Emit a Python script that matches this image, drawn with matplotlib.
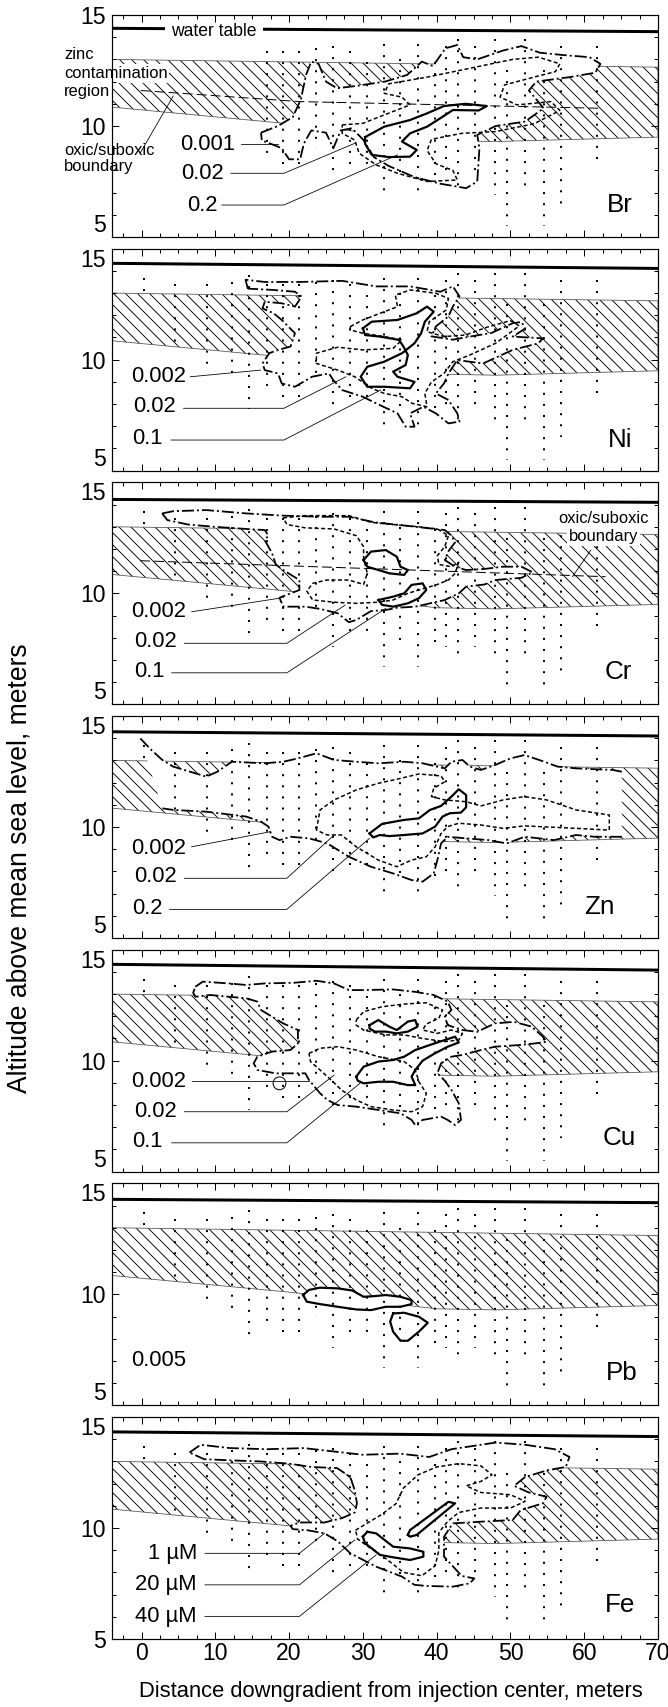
import matplotlib
matplotlib.use('Agg')
import matplotlib.pyplot as plt
from matplotlib.patches import Polygon, Ellipse
from matplotlib.ticker import MultipleLocator

plt.rcParams['font.family'] = ['Liberation Sans Narrow', 'Liberation Sans', 'DejaVu Sans']
plt.rcParams['lines.scale_dashes'] = False
plt.rcParams['hatch.linewidth'] = 0.9

DPI = 72
W, H = 668, 1707

names = ['Br', 'Ni', 'Cr', 'Zn', 'Cu', 'Pb', 'Fe']
name_x = [64.8, 64.8, 64.6, 62.0, 64.8, 65.1, 64.8]
name_y = [6.45, 6.4, 6.47, 6.41, 6.5, 6.44, 6.53]

# water table (left, right) per panel
wt_left = [14.4, 14.34, 14.23, 14.29, 14.34, 14.28, 14.33]
wt_right = [14.25, 14.11, 14.1, 14.1, 14.08, 14.13, 14.12]

# zinc contamination region
hatch_x = [-4, 70, 70, 48, 40, 20, -4]
hatch_y = [13.0, 12.65, 9.5, 9.3, 9.35, 10.1, 10.85]

# multilevel sampler columns: x, top, bottom
col_x = [0.4, 4.5, 8.9, 12.2, 14.6, 17.0, 19.2, 21.3, 23.7, 25.9, 28.3, 30.5, 32.9,
         35.1, 37.5, 39.8, 41.3, 42.9, 45.2, 47.9, 49.5, 52.0, 54.5, 56.8, 61.7]
col_top = [13.7, 13.4, 13.4, 13.5, 13.8, 13.4, 13.4, 13.4, 13.5, 13.6, 13.4, 12.9, 13.7,
           13.0, 13.7, 12.9, 13.6, 13.9, 13.6, 13.9, 12.5, 13.9, 12.5, 13.6, 13.6]
col_bot = [12.8, 10.5, 9.7, 9.2, 7.8, 8.8, 8.0, 8.3, 9.0, 7.6, 8.0, 8.0, 6.7,
           7.7, 6.7, 7.6, 7.6, 7.0, 7.6, 6.9, 5.5, 7.0, 5.5, 6.5, 8.5]

# oxic/suboxic boundary
br_oxic = [(-0.1, 11.6), (21.4, 11.1), (61.9, 10.8)]
cr_oxic = [(-0.2, 11.47), (62.9, 10.75)]

# ---- Br
br_outer = [(16.2, 9.7), (18.5, 10.0), (20.5, 10.4), (21.6, 11.2), (22.3, 12.3), (23.0, 12.9),
            (24.0, 12.8), (25.0, 12.0), (26.5, 11.7), (29.0, 11.8), (33.0, 12.0), (36.0, 12.3),
            (38.0, 12.9), (39.5, 12.7), (41.2, 13.5), (42.8, 13.65), (43.6, 13.1), (45.5, 13.0),
            (49.0, 13.4), (51.5, 13.6), (54.0, 13.3), (57.0, 13.2), (60.7, 13.1), (62.2, 12.8),
            (61.5, 12.4), (58.0, 12.2), (53.5, 12.0), (52.5, 11.6), (54.5, 10.8), (52.0, 10.2),
            (48.0, 10.0), (45.5, 9.6), (45.8, 9.0), (45.5, 7.5), (44.0, 7.2), (40.5, 7.4),
            (37.0, 7.7), (33.5, 8.2), (31.5, 8.6), (30.0, 9.4), (28.5, 9.9), (27.0, 9.8),
            (26.0, 9.0), (25.0, 9.7), (23.0, 9.8), (22.0, 9.2), (21.5, 8.5), (20.0, 8.5),
            (19.0, 9.0), (17.5, 9.2), (16.3, 9.35)]
br_mid = [(27.2, 10.05), (30.0, 10.12), (32.9, 10.5), (36.4, 10.95), (35.3, 11.3), (32.9, 11.47),
          (33.5, 11.9), (38.7, 12.2), (44.5, 12.6), (50.3, 13.0), (53.8, 13.1), (56.7, 12.8),
          (56.1, 12.45), (52.6, 12.15), (49.2, 11.85), (48.6, 11.3), (50.9, 10.95), (55.5, 11.1),
          (56.7, 10.7), (53.2, 10.1), (48.0, 9.75), (43.4, 9.67), (39.3, 9.4), (38.7, 8.9),
          (39.9, 8.3), (42.2, 8.0), (42.8, 7.57), (38.7, 7.5), (34.7, 7.87), (31.8, 8.25),
          (29.5, 8.77), (28.9, 9.37), (27.2, 9.67)]
br_inner = [(30.3, 9.5), (32.9, 9.97), (36.4, 10.27), (38.7, 10.57), (41.0, 10.9), (43.9, 11.0),
            (46.8, 10.9), (45.7, 10.7), (42.2, 10.72), (40.5, 10.35), (38.7, 9.97), (36.4, 9.67),
            (35.3, 9.3), (37.3, 8.92), (36.4, 8.62), (33.5, 8.6), (31.2, 8.7), (30.3, 9.2)]
br_labels = ['0.001', '0.02', '0.2']
br_label_x = [12.7, 11.2, 10.3]
br_label_y = [9.15, 7.87, 6.44]
br_leaders = [[(13.5, 9.2), (18.5, 9.2)],
              [(12.1, 7.87), (19.3, 7.87), (28.9, 9.22)],
              [(10.9, 6.44), (19.3, 6.44), (34.7, 8.7)]]

# ---- Ni
ni_outer = [(14.4, 13.2), (14.1, 13.6), (16.7, 13.5), (21.4, 13.5), (27.2, 13.55), (31.8, 13.3),
            (36.4, 13.3), (40.5, 13.06), (42.2, 13.3), (43.1, 12.85), (42.2, 12.4), (41.6, 11.95),
            (39.9, 11.5), (39.3, 11.05), (42.2, 10.9), (44.5, 11.04), (47.4, 11.2), (50.3, 11.64),
            (51.5, 11.7), (52.0, 11.4), (50.3, 11.04), (54.4, 10.96), (53.8, 10.74), (50.3, 10.44),
            (46.3, 9.83), (42.8, 9.98), (41.6, 9.38), (41.0, 8.93), (39.9, 8.48), (41.6, 8.18),
            (42.8, 7.58), (43.1, 7.21), (41.6, 7.13), (39.9, 7.58), (38.2, 7.88), (36.4, 7.58),
            (37.0, 6.98), (35.8, 6.98), (34.7, 7.58), (31.8, 8.03), (30.0, 8.33), (27.2, 8.63),
            (26.0, 9.08), (25.4, 9.38), (23.1, 9.23), (20.8, 8.78), (19.0, 8.93), (18.5, 9.38),
            (16.7, 9.53), (16.4, 9.83), (17.3, 10.29), (18.5, 10.44), (20.2, 10.59), (20.8, 11.19),
            (19.0, 11.79), (17.9, 12.09), (16.4, 12.31), (16.7, 12.61), (19.0, 12.54), (20.8, 12.39),
            (21.7, 12.84), (20.8, 13.06), (17.9, 13.14)]
ni_mid = [(28.3, 11.49), (30.0, 11.79), (32.9, 12.16), (34.7, 12.39), (34.4, 12.91), (36.4, 13.14),
          (39.9, 12.99), (41.6, 12.76), (41.3, 12.24), (39.0, 11.71), (38.7, 11.26), (41.0, 11.04),
          (43.9, 11.11), (46.8, 11.46), (50.0, 11.76), (51.2, 11.52), (48.0, 10.74), (44.5, 10.21),
          (42.2, 9.91), (41.0, 9.38), (39.3, 9.0), (38.4, 8.48), (38.7, 7.88), (36.7, 8.03),
          (35.3, 8.33), (32.9, 8.48), (31.2, 8.71), (28.9, 9.23), (26.6, 9.53), (23.7, 9.83),
          (23.7, 10.29), (26.6, 10.56), (30.0, 10.44), (34.1, 10.51), (35.3, 10.89), (32.9, 11.04),
          (30.0, 11.19), (28.3, 11.34)]
ni_inner = [(30.0, 11.41), (31.2, 11.71), (34.7, 11.79), (37.3, 12.09), (38.7, 12.39), (39.6, 12.16),
            (38.4, 11.71), (37.9, 11.19), (37.0, 10.74), (35.3, 10.29), (32.9, 9.91), (30.6, 9.68),
            (29.7, 9.23), (30.6, 8.78), (32.9, 8.78), (36.4, 8.71), (37.0, 9.0), (34.7, 9.23),
            (34.1, 9.46), (35.8, 9.76), (36.1, 10.21), (35.5, 10.59), (34.9, 10.89), (32.3, 11.04),
            (30.3, 11.11)]
ni_labels = ['0.002', '0.02', '0.1']
ni_label_x = [6.0, 4.6, 2.8]
ni_label_y = [9.23, 7.9, 6.45]
ni_leaders = [[(6.6, 9.23), (16.15, 9.53)],
              [(5.7, 7.81), (19.3, 7.81), (27.7, 9.23)],
              [(4.0, 6.38), (19.3, 6.38), (32.4, 8.63)]]

# ---- Cr
cr_outer = [(2.8, 13.6), (4.3, 13.7), (8.8, 13.75), (14.2, 13.6), (19.2, 13.5), (24.2, 13.45),
            (28.1, 13.45), (31.6, 13.2), (37.1, 13.0), (41.1, 12.85), (42.0, 12.6), (42.5, 12.3),
            (41.6, 11.9), (41.1, 11.5), (42.5, 11.2), (44.0, 11.05), (46.5, 11.1), (49.0, 11.2),
            (51.5, 11.2), (53.0, 10.95), (51.5, 10.7), (48.0, 10.6), (46.5, 10.4), (44.0, 10.3),
            (43.0, 10.0), (41.1, 9.7), (39.1, 9.55), (37.1, 9.4), (34.6, 9.35), (33.1, 9.25),
            (31.1, 9.2), (29.1, 8.8), (28.1, 8.7), (26.6, 9.1), (24.2, 9.3), (22.2, 9.4),
            (19.2, 9.4), (18.7, 9.8), (20.2, 10.0), (21.4, 10.15), (21.4, 10.6), (19.2, 11.05),
            (18.2, 11.3), (17.7, 11.8), (16.7, 12.4), (17.2, 12.6), (16.7, 12.85), (14.2, 12.9),
            (9.8, 13.0), (6.3, 13.1), (3.5, 13.3)]
cr_mid = [(19.2, 13.4), (22.2, 13.5), (28.1, 13.5), (31.1, 13.2), (34.1, 13.1), (37.5, 13.0),
          (40.1, 12.9), (41.6, 12.6), (41.1, 12.1), (40.1, 11.7), (40.3, 11.3), (42.0, 11.2),
          (43.0, 11.4), (42.5, 10.9), (41.6, 10.6), (40.1, 10.4), (38.1, 10.2), (36.1, 10.0),
          (34.1, 9.7), (32.1, 9.6), (29.1, 9.55), (26.1, 9.6), (23.2, 9.7), (22.4, 10.1),
          (23.2, 10.45), (25.1, 10.6), (28.1, 10.6), (30.1, 10.4), (30.6, 10.9), (30.1, 11.6),
          (30.1, 12.1), (29.1, 12.6), (26.1, 12.9), (22.2, 12.95), (19.7, 13.1)]
cr_inner_a = [(30.1, 11.5), (31.1, 11.88), (33.1, 11.95), (34.6, 11.65), (35.1, 11.2), (36.1, 11.05),
              (35.6, 10.83), (33.6, 10.9), (32.1, 11.05), (30.6, 11.2)]
cr_inner_b = [(32.1, 9.7), (34.1, 9.85), (35.6, 10.0), (36.6, 10.38), (38.1, 10.45), (38.6, 10.15),
              (37.6, 9.78), (36.1, 9.55), (34.1, 9.4), (32.6, 9.48)]
cr_labels = ['0.002', '0.02', '0.1']
cr_label_x = [6.0, 4.8, 3.1]
cr_label_y = [9.17, 7.82, 6.47]
cr_leaders = [[(6.8, 9.17), (18.7, 9.78)],
              [(5.8, 7.75), (19.7, 7.75), (27.6, 9.47)],
              [(4.1, 6.42), (19.7, 6.42), (33.1, 9.32)]]

# ---- Zn (outer contour is open at both ends)
zn_outer_top = [(-0.16, 13.99), (1.33, 13.47), (2.82, 13.02), (4.3, 12.72), (8.77, 12.27),
                (10.27, 12.49), (12.25, 12.94), (16.7, 12.87), (19.2, 12.94), (21.2, 13.09),
                (23.7, 13.32), (26.1, 13.02), (29.1, 12.94), (32.1, 12.87), (35.6, 12.94),
                (38.1, 12.87), (41.1, 12.64), (42.0, 12.94), (43.5, 13.02), (44.5, 12.72),
                (46.0, 12.57), (47.9, 12.79), (50.0, 13.09), (51.9, 13.24), (53.9, 13.02),
                (56.4, 12.72), (58.9, 12.64), (63.9, 12.57), (65.1, 12.49)]
zn_outer_bot = [(65.1, 9.56), (63.9, 9.56), (61.4, 9.56), (58.9, 9.64), (55.9, 9.41), (53.9, 9.49),
                (51.9, 9.56), (49.5, 9.26), (47.0, 9.41), (44.0, 9.49), (41.5, 9.56), (40.6, 9.26),
                (40.1, 8.51), (39.6, 7.91), (38.1, 7.54), (36.6, 7.61), (34.1, 7.91), (31.1, 8.21),
                (28.1, 8.66), (25.2, 9.26), (22.7, 9.49), (20.2, 9.56), (18.7, 9.41), (17.7, 9.56),
                (17.2, 10.02), (16.2, 10.24), (14.2, 10.47), (8.77, 10.69), (4.3, 10.77), (2.82, 10.84)]
zn_mid = [(23.7, 9.86), (24.2, 10.77), (26.1, 11.22), (29.1, 11.67), (32.1, 11.97), (35.1, 12.19),
          (37.6, 12.39), (40.6, 12.3), (41.1, 12.04), (39.6, 11.74), (39.3, 11.37), (41.1, 11.22),
          (44.0, 11.14), (46.0, 10.95), (49.0, 11.22), (51.9, 11.37), (54.9, 11.22), (58.9, 10.77),
          (63.4, 10.54), (63.4, 9.86), (58.9, 9.94), (51.9, 10.05), (49.0, 9.94), (46.0, 10.09),
          (43.0, 10.17), (41.5, 10.02), (40.6, 9.71), (39.8, 9.11), (38.6, 8.66), (36.6, 8.51),
          (34.6, 8.21), (32.1, 8.51), (29.1, 9.11), (27.1, 9.64), (25.2, 9.64)]
zn_inner = [(30.9, 9.71), (32.6, 10.14), (35.6, 10.32), (37.6, 10.39), (39.1, 10.77), (40.6, 10.95),
            (42.0, 11.37), (43.0, 11.7), (44.0, 11.44), (44.0, 10.89), (43.3, 10.65), (41.8, 10.62),
            (40.8, 10.47), (39.8, 10.02), (38.1, 9.71), (35.6, 9.64), (33.6, 9.59), (32.3, 9.64),
            (31.4, 9.53)]
zn_labels = ['0.002', '0.02', '0.2']
zn_label_x = [6.0, 4.8, 2.8]
zn_label_y = [9.04, 7.76, 6.34]
zn_leaders = [[(6.8, 9.11), (17.5, 9.79)],
              [(5.8, 7.69), (19.7, 7.69), (26.1, 9.64)],
              [(3.8, 6.29), (19.7, 6.29), (30.9, 9.49)]]

# ---- Cu
cu_outer = [(7.3, 13.33), (8.3, 13.56), (11.8, 13.48), (14.2, 13.41), (16.7, 13.48), (20.7, 13.51),
            (23.7, 13.6), (26.1, 13.48), (28.1, 13.18), (30.1, 13.18), (34.1, 13.21), (37.1, 13.1),
            (39.6, 12.96), (41.5, 12.66), (42.0, 12.28), (41.1, 11.98), (41.5, 11.6), (43.5, 11.38),
            (45.5, 11.3), (47.9, 11.68), (50.5, 11.75), (52.9, 11.53), (54.4, 11.08), (54.9, 10.85),
            (53.4, 10.78), (51.0, 10.7), (47.9, 10.63), (46.0, 10.48), (43.5, 10.26), (42.0, 10.18),
            (40.6, 9.88), (40.1, 9.43), (41.1, 9.1), (42.0, 8.68), (43.0, 8.08), (43.3, 7.33),
            (42.5, 7.1), (41.5, 7.33), (40.6, 7.48), (38.1, 7.33), (37.1, 7.1), (36.6, 7.33),
            (35.1, 7.63), (32.1, 7.78), (29.1, 7.93), (26.6, 8.0), (25.2, 8.23), (24.2, 8.53),
            (22.7, 9.13), (22.2, 9.43), (20.2, 9.43), (18.2, 9.43), (15.7, 9.58), (15.2, 9.88),
            (15.7, 10.18), (17.7, 10.41), (20.2, 10.48), (21.2, 10.78), (21.2, 11.38), (19.2, 11.68),
            (17.7, 11.98), (16.2, 12.28), (15.7, 12.66), (14.2, 12.81), (11.8, 12.88), (9.3, 12.96),
            (7.3, 12.88), (7.0, 13.06)]
cu_mid_a = [(29.1, 11.83), (30.1, 12.21), (32.6, 12.43), (35.6, 12.55), (38.6, 12.61), (40.8, 12.28),
            (40.3, 11.91), (38.6, 11.65), (38.1, 11.38), (40.1, 11.23), (42.0, 11.38), (43.5, 11.23),
            (43.0, 10.93), (41.1, 10.86), (38.1, 11.0), (35.6, 11.16), (33.1, 11.16), (30.1, 11.38),
            (29.1, 11.6)]
cu_mid_b = [(22.7, 10.33), (24.2, 10.56), (26.6, 10.63), (29.1, 10.48), (32.1, 10.18), (35.6, 9.96),
            (37.1, 9.58), (37.6, 9.05), (38.6, 8.53), (38.1, 7.93), (36.6, 7.7), (34.1, 7.78),
            (31.1, 7.93), (29.1, 8.23), (27.1, 8.68), (25.7, 9.13), (24.2, 9.58), (22.9, 9.96)]
cu_inner_a = [(30.9, 11.6), (32.1, 11.83), (33.6, 11.53), (34.6, 11.38), (36.1, 11.76), (37.1, 11.83),
              (37.4, 11.53), (36.1, 11.31), (34.6, 11.23), (33.1, 11.31), (31.6, 11.31), (30.9, 11.45)]
cu_inner_b = [(29.1, 9.28), (30.1, 9.73), (32.1, 9.96), (34.1, 10.03), (35.6, 10.18), (37.1, 10.48),
              (39.1, 10.71), (41.1, 10.93), (42.5, 11.08), (43.0, 10.82), (41.5, 10.63), (39.6, 10.3),
              (38.1, 10.0), (37.1, 9.58), (36.6, 9.28), (37.1, 8.9), (36.1, 8.9), (34.1, 9.05),
              (32.1, 9.05), (30.1, 8.98), (29.3, 9.1)]
cu_spot = (18.7, 8.98)
cu_labels = ['0.002', '0.02', '0.1']
cu_label_x = [6.0, 4.8, 2.8]
cu_label_y = [9.05, 7.7, 6.35]
cu_leaders = [[(6.8, 9.1), (22.7, 9.1)],
              [(5.8, 7.7), (19.7, 7.7), (26.1, 9.35)],
              [(4.1, 6.3), (19.7, 6.3), (29.6, 8.98)]]

# ---- Pb
pb_inner_a = [(21.9, 9.97), (22.7, 10.2), (24.2, 10.3), (26.6, 10.27), (28.6, 10.17), (30.1, 9.89),
              (31.6, 9.92), (33.1, 9.97), (35.1, 9.89), (36.6, 9.74), (36.6, 9.56), (35.1, 9.44),
              (33.1, 9.44), (31.1, 9.29), (29.1, 9.32), (26.6, 9.44), (24.2, 9.56), (22.4, 9.67)]
pb_inner_b = [(34.1, 9.14), (35.6, 9.17), (37.6, 8.99), (38.8, 8.72), (37.6, 8.32), (36.1, 7.91),
              (35.1, 7.91), (34.1, 8.32), (33.7, 8.77)]
pb_labels = ['0.005']
pb_label_x = [6.0]
pb_label_y = [7.0]

# ---- Fe
fe_outer = [(6.5, 13.4), (8.0, 13.75), (12.0, 13.6), (17.0, 13.55), (22.0, 13.6), (26.0, 13.45),
            (30.0, 13.3), (35.0, 13.35), (39.0, 13.2), (42.0, 13.55), (45.0, 13.7), (48.0, 13.85),
            (52.0, 13.75), (56.0, 13.55), (58.0, 13.2), (57.5, 12.75), (55.0, 12.6), (52.0, 12.3),
            (50.5, 11.9), (52.5, 11.6), (54.9, 11.41), (54.4, 11.11), (51.4, 10.81), (50.3, 10.36),
            (45.7, 10.28), (42.2, 10.21), (41.0, 9.61), (41.0, 8.71), (43.4, 7.84), (45.1, 7.73),
            (44.5, 7.51), (42.2, 7.36), (38.7, 7.39), (37.0, 7.44), (35.3, 7.81), (31.8, 8.26),
            (28.3, 8.86), (26.6, 9.4), (24.8, 9.76), (22.5, 9.9), (20.5, 9.95), (20.2, 10.1),
            (21.4, 10.25), (24.8, 10.25), (27.2, 10.45), (28.9, 10.7), (29.2, 11.11), (28.9, 11.7),
            (28.3, 12.3), (26.5, 12.7), (23.0, 12.75), (20.0, 12.9), (16.0, 13.0), (12.0, 13.05),
            (8.5, 13.1)]
fe_mid = [(29.0, 9.9), (30.5, 10.2), (32.5, 10.6), (34.5, 11.1), (35.5, 11.8), (37.5, 12.4),
          (40.0, 12.75), (43.0, 12.9), (46.0, 12.8), (47.5, 12.4), (46.0, 12.1), (44.0, 11.9),
          (46.0, 11.6), (50.0, 11.5), (52.0, 11.2), (50.0, 10.9), (46.0, 10.9), (43.0, 10.7),
          (41.5, 10.3), (40.3, 9.8), (40.3, 9.0), (39.8, 8.3), (38.0, 7.85), (35.5, 8.0),
          (33.2, 8.6), (31.0, 9.1), (29.3, 9.5)]
fe_inner_a = [(36.1, 9.69), (36.4, 9.91), (41.6, 11.18), (42.5, 11.11), (37.3, 9.69), (36.4, 9.61)]
fe_inner_b = [(30.0, 9.61), (30.6, 9.83), (31.8, 9.76), (34.1, 9.16), (36.4, 9.08), (38.2, 8.93),
              (38.2, 8.71), (36.4, 8.56), (34.1, 8.68), (32.3, 8.79), (31.5, 9.01), (30.3, 9.31)]
fe_labels = ['1 \u00b5M', '20 \u00b5M', '40 \u00b5M']
fe_label_x = [7.5, 7.5, 7.5]
fe_label_y = [8.86, 7.44, 6.02]
fe_leaders = [[(8.6, 8.86), (21.4, 8.86), (24.8, 9.76)],
              [(8.6, 7.44), (21.4, 7.44), (28.9, 9.46)],
              [(8.6, 6.02), (21.4, 6.02), (31.8, 8.79)]]

STYLES = {
    'outer': dict(lw=1.8, linestyle=(0, (12, 3, 2, 3))),
    'mid': dict(lw=1.5, linestyle=(0, (4, 2.5))),
    'inner': dict(lw=2.2, linestyle='-'),
}
BIG = 23
SMALL = 16.5
WHITE = dict(boxstyle='square,pad=0.1', facecolor='white', edgecolor='none')


def curve(ax, pts, style, closed=True):
    xs = [p[0] for p in pts]
    ys = [p[1] for p in pts]
    if closed:
        xs = xs + xs[:1]
        ys = ys + ys[:1]
    ax.plot(xs, ys, color='k', solid_joinstyle='round', dash_joinstyle='round',
            zorder=1.6, **STYLES[style])


def blank(ax, pts):
    ax.add_patch(Polygon(pts, closed=True, facecolor='white', edgecolor='none', zorder=1.2))


def labels(ax, texts, xs, ys, leaders=()):
    for t, x, y in zip(texts, xs, ys):
        ax.text(x, y, t, ha='right', va='center', fontsize=BIG - 1, zorder=2.1)
    for ld in leaders:
        ax.plot([p[0] for p in ld], [p[1] for p in ld], color='k', lw=0.8, zorder=1.7)


fig = plt.figure(figsize=(W / DPI, H / DPI), dpi=DPI)

for i, name in enumerate(names):
    top = 15 + i * 233.67
    ax = fig.add_axes([112 / W, 1 - (top + 222) / H, 546 / W, 222 / H])
    ax.set_xlim(-4, 70)
    ax.set_ylim(5, 15)
    ax.set_axisbelow(False)

    # zinc contamination region
    reg = list(zip(hatch_x, hatch_y))
    ax.add_patch(Polygon(reg, closed=True, facecolor='none', edgecolor='k', lw=0,
                         hatch='\\\\', zorder=1.0))
    ax.add_patch(Polygon(reg, closed=True, facecolor='none', edgecolor='#555555', lw=0.8,
                         zorder=1.05))

    # water table
    ax.plot([-4, 70], [wt_left[i], wt_right[i]], color='k', lw=3, solid_capstyle='butt', zorder=1.9)

    if name == 'Br':
        blank(ax, br_outer)
        curve(ax, br_outer, 'outer')
        curve(ax, br_mid, 'mid')
        curve(ax, br_inner, 'inner')
        labels(ax, br_labels, br_label_x, br_label_y, br_leaders)
        ax.plot([p[0] for p in br_oxic], [p[1] for p in br_oxic], color='k', lw=1.0,
                linestyle=(0, (10, 4)), zorder=1.4)
        ax.text(9.8, 14.27, 'water table', ha='center', va='center', fontsize=SMALL + 1, zorder=2.0,
                bbox=dict(boxstyle='square,pad=0.35', facecolor='white', edgecolor='none'))
        ax.text(-10.5, 13.2, 'zinc', ha='left', va='center', fontsize=SMALL, zorder=2.0,
                clip_on=False)
        ax.text(-10.5, 12.37, 'contamination', ha='left', va='center', fontsize=SMALL, zorder=2.0,
                clip_on=False, bbox=WHITE)
        ax.text(-10.5, 11.55, 'region', ha='left', va='center', fontsize=SMALL, zorder=2.0,
                clip_on=False, bbox=WHITE)
        ax.text(-10.5, 8.55, 'oxic/suboxic\nboundary', ha='left', va='center', fontsize=SMALL,
                linespacing=1.1, zorder=2.0, clip_on=False)
        ax.plot([-0.2, 4.3], [8.77, 11.35], color='k', lw=0.8, zorder=1.7)
        cols = [k for k in range(len(col_x)) if col_x[k] > 15]
    elif name == 'Ni':
        blank(ax, ni_outer)
        curve(ax, ni_outer, 'outer')
        curve(ax, ni_mid, 'mid')
        curve(ax, ni_inner, 'inner')
        labels(ax, ni_labels, ni_label_x, ni_label_y, ni_leaders)
        cols = range(len(col_x))
    elif name == 'Cr':
        blank(ax, cr_outer)
        ax.plot([p[0] for p in cr_oxic], [p[1] for p in cr_oxic], color='k', lw=1.0,
                linestyle=(0, (10, 4)), zorder=1.4)
        curve(ax, cr_outer, 'outer')
        curve(ax, cr_mid, 'mid')
        curve(ax, cr_inner_a, 'inner')
        curve(ax, cr_inner_b, 'inner')
        labels(ax, cr_labels, cr_label_x, cr_label_y, cr_leaders)
        ax.text(62.6, 13.38, 'oxic/suboxic', ha='center', va='center', fontsize=SMALL, zorder=2.0,
                bbox=WHITE)
        ax.text(62.6, 12.55, 'boundary', ha='center', va='center', fontsize=SMALL, zorder=2.0,
                bbox=WHITE)
        ax.plot([60.9, 58.4], [11.95, 10.75], color='k', lw=0.8, zorder=1.7)
        cols = range(len(col_x))
    elif name == 'Zn':
        blank(ax, zn_outer_top + zn_outer_bot)
        curve(ax, zn_outer_top, 'outer', closed=False)
        curve(ax, zn_outer_bot, 'outer', closed=False)
        curve(ax, zn_mid, 'mid')
        curve(ax, zn_inner, 'inner')
        labels(ax, zn_labels, zn_label_x, zn_label_y, zn_leaders)
        cols = range(len(col_x))
    elif name == 'Cu':
        blank(ax, cu_outer)
        curve(ax, cu_outer, 'outer')
        curve(ax, cu_mid_a, 'mid')
        curve(ax, cu_mid_b, 'mid')
        curve(ax, cu_inner_a, 'inner')
        curve(ax, cu_inner_b, 'inner')
        ax.add_patch(Ellipse(cu_spot, 1.73, 0.58, facecolor='none', edgecolor='k', lw=1.0, zorder=1.6))
        labels(ax, cu_labels, cu_label_x, cu_label_y, cu_leaders)
        cols = range(len(col_x))
    elif name == 'Pb':
        blank(ax, pb_inner_a)
        blank(ax, pb_inner_b)
        curve(ax, pb_inner_a, 'inner')
        curve(ax, pb_inner_b, 'inner')
        labels(ax, pb_labels, pb_label_x, pb_label_y)
        cols = range(len(col_x))
    else:
        blank(ax, fe_outer)
        curve(ax, fe_outer, 'outer')
        curve(ax, fe_mid, 'mid')
        curve(ax, fe_inner_a, 'inner')
        curve(ax, fe_inner_b, 'inner')
        labels(ax, fe_labels, fe_label_x, fe_label_y, fe_leaders)
        cols = range(len(col_x))

    # sampling ports
    for k in cols:
        ax.plot([col_x[k], col_x[k]], [col_top[k], col_bot[k]], color='k', lw=2.0,
                linestyle=(0, (2.0, 9.1)), dash_capstyle='butt', zorder=1.8)

    ax.text(name_x[i], name_y[i], name, ha='center', va='center', fontsize=BIG + 3, zorder=2.1)

    ax.xaxis.set_major_locator(MultipleLocator(10))
    ax.xaxis.set_minor_locator(MultipleLocator(2.5))
    ax.set_yticks([5, 10, 15], labels=['5', '10', '15'])
    ax.yaxis.set_minor_locator(MultipleLocator(1))
    ax.tick_params(which='both', direction='in', top=True, right=True, width=1)
    ax.tick_params(which='major', length=7, labelsize=BIG, pad=3)
    ax.tick_params(which='minor', length=4)
    ax.tick_params(axis='y', which='major', pad=6)
    ylab = ax.get_yticklabels()
    if i < len(names) - 1:
        ax.tick_params(labelbottom=False)
        ylab[0].set_va('bottom')
    if i > 0:
        ylab[2].set_va('top')
    for s in ax.spines.values():
        s.set_linewidth(1.2)

fig.text(391 / W, 1 - 1692 / H, 'Distance downgradient from injection center, meters',
         ha='center', va='center', fontsize=22)
fig.text(20 / W, 1 - 868 / H, 'Altitude above mean sea level, meters',
         ha='center', va='center', rotation=90, fontsize=26.5)

fig.savefig('out.png', dpi=DPI)
